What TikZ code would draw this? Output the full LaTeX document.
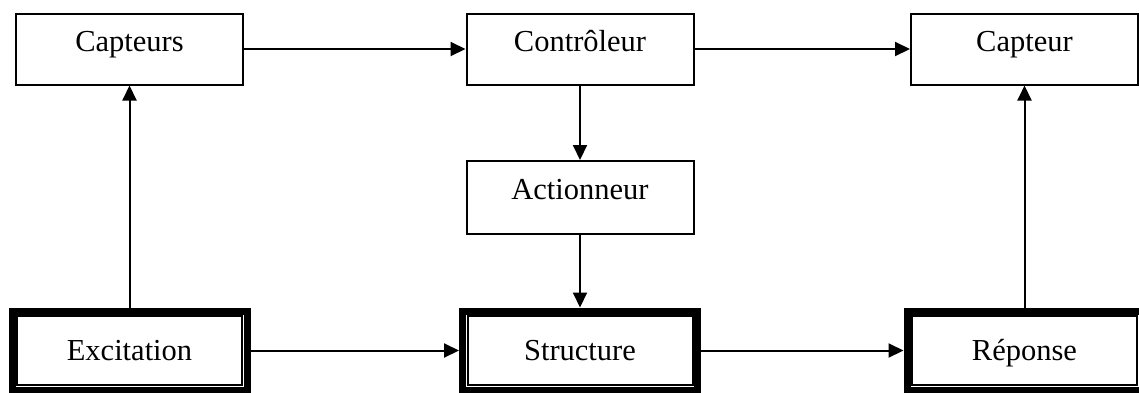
\documentclass[tikz,border=0pt]{standalone}
\usepackage{fontspec}
\setmainfont{Liberation Serif}
\usetikzlibrary{arrows.meta}
\tikzset{
  box/.style={draw, line width=2pt, inner sep=0pt, minimum width=227pt, minimum height=71pt,
    text height=38pt, text depth=33pt, font=\fontsize{30.5}{36}\selectfont},
  dbox/.style={draw, line width=7pt, inner sep=0pt, minimum width=235pt, minimum height=79pt,
    text height=49pt, text depth=30pt, font=\fontsize{30.5}{36}\selectfont},
  inner/.style={line width=2pt},
  arr/.style={line width=2pt, -{Triangle[length=15pt,width=14pt]}}
}
\begin{document}
\begin{tikzpicture}[x=1pt,y=-1pt]
\useasboundingbox (0,0) rectangle (1139,392);
\node[box] (cap) at (129.5,49) {Capteurs};
\node[box] (ctrl) at (580,49) {Contrôleur};
\node[box] (capt) at (1024.5,49) {Capteur};
\node[box, minimum height=73pt, text depth=35pt] (act) at (580,197.5) {Actionneur};
\node[dbox] (ex) at (129.5,350.5) {Excitation};
\node[dbox] (str) at (580,350.5) {Structure};
\node[dbox] (rep) at (1024.5,350.5) {Réponse};
\foreach \n in {ex,str,rep}{
  \draw[inner] ([shift={(8.5pt,-8.5pt)}]\n.north west) rectangle ([shift={(-8.5pt,8.5pt)}]\n.south east);
}
\draw[arr] (cap.east) -- (ctrl.west);
\draw[arr] (ctrl.east) -- (capt.west);
\draw[arr] (ctrl.south) -- (act.north);
\draw[arr] (act.south) -- (str.north);
\draw[arr] (ex.east) -- (str.west);
\draw[arr] (str.east) -- (rep.west);
\draw[arr] (ex.north) -- (cap.south);
\draw[arr] (rep.north) -- (capt.south);
\end{tikzpicture}
\end{document}
